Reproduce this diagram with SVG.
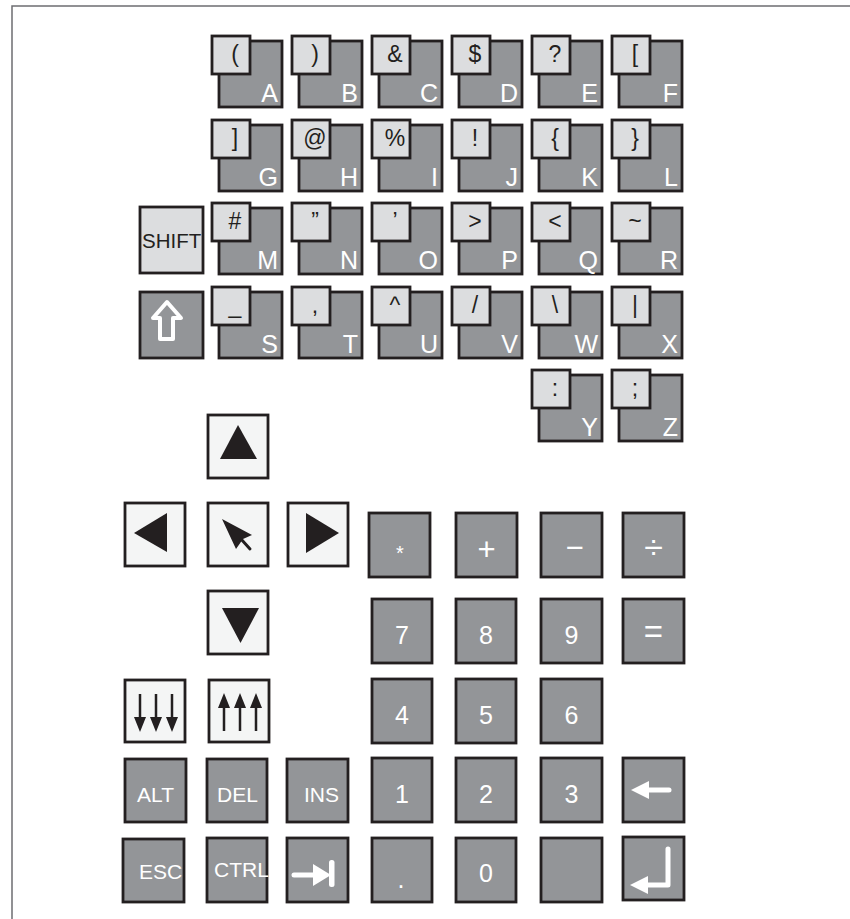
<svg xmlns="http://www.w3.org/2000/svg" width="850" height="919" viewBox="0 0 850 919">
<style>
.dk{fill:#939598;stroke:#231f20;stroke-width:2.8}
.lt{fill:#dcdddf;stroke:#231f20;stroke-width:2.8}
.wh{fill:#f4f5f5;stroke:#231f20;stroke-width:2.8}
text{font-family:"Liberation Sans",Arial,sans-serif}
.sym{font-size:23px;fill:#231f20;text-anchor:middle}
.let{font-size:25px;fill:#ffffff;text-anchor:end}
.num{font-size:25px;fill:#ffffff;text-anchor:middle}
.op{font-size:31px;fill:#ffffff;text-anchor:middle}
.lab{font-size:21px;fill:#ffffff}
.blk{fill:#231f20}
.wf{fill:#ffffff}
.ws{fill:none;stroke:#ffffff;stroke-width:5;stroke-linecap:round;stroke-linejoin:round}
</style>
<defs>
<g id="kbase"><rect class="dk" x="0" y="0" width="63" height="66"/><rect class="lt" x="-7" y="-5" width="38" height="38"/></g>
</defs>
<path d="M12,919 V6 H850" fill="none" stroke="#6d6e71" stroke-width="1.5"/>

<g id="key-A" transform="translate(219,41)"><use href="#kbase"/><text class="sym" x="16" y="21">(</text><text class="let" x="59" y="61">A</text></g>
<g id="key-B" transform="translate(299,41)"><use href="#kbase"/><text class="sym" x="16" y="21">)</text><text class="let" x="59" y="61">B</text></g>
<g id="key-C" transform="translate(379,41)"><use href="#kbase"/><text class="sym" x="16" y="21">&amp;</text><text class="let" x="59" y="61">C</text></g>
<g id="key-D" transform="translate(459,41)"><use href="#kbase"/><text class="sym" x="16" y="21">$</text><text class="let" x="59" y="61">D</text></g>
<g id="key-E" transform="translate(539,41)"><use href="#kbase"/><text class="sym" x="16" y="21">?</text><text class="let" x="59" y="61">E</text></g>
<g id="key-F" transform="translate(619,41)"><use href="#kbase"/><text class="sym" x="16" y="21">[</text><text class="let" x="59" y="61">F</text></g>

<g id="key-G" transform="translate(219,125)"><use href="#kbase"/><text class="sym" x="16" y="21">]</text><text class="let" x="59" y="61">G</text></g>
<g id="key-H" transform="translate(299,125)"><use href="#kbase"/><text class="sym" x="16" y="21">@</text><text class="let" x="59" y="61">H</text></g>
<g id="key-I" transform="translate(379,125)"><use href="#kbase"/><text class="sym" x="16" y="21">%</text><text class="let" x="59" y="61">I</text></g>
<g id="key-J" transform="translate(459,125)"><use href="#kbase"/><text class="sym" x="16" y="21">!</text><text class="let" x="59" y="61">J</text></g>
<g id="key-K" transform="translate(539,125)"><use href="#kbase"/><text class="sym" x="16" y="21">{</text><text class="let" x="59" y="61">K</text></g>
<g id="key-L" transform="translate(619,125)"><use href="#kbase"/><text class="sym" x="16" y="21">}</text><text class="let" x="59" y="61">L</text></g>

<g id="key-M" transform="translate(219,208)"><use href="#kbase"/><text class="sym" x="16" y="21">#</text><text class="let" x="59" y="61">M</text></g>
<g id="key-N" transform="translate(299,208)"><use href="#kbase"/><text class="sym" x="16" y="21">”</text><text class="let" x="59" y="61">N</text></g>
<g id="key-O" transform="translate(379,208)"><use href="#kbase"/><text class="sym" x="16" y="21">’</text><text class="let" x="59" y="61">O</text></g>
<g id="key-P" transform="translate(459,208)"><use href="#kbase"/><text class="sym" x="16" y="21">&gt;</text><text class="let" x="59" y="61">P</text></g>
<g id="key-Q" transform="translate(539,208)"><use href="#kbase"/><text class="sym" x="16" y="21">&lt;</text><text class="let" x="59" y="61">Q</text></g>
<g id="key-R" transform="translate(619,208)"><use href="#kbase"/><text class="sym" x="16" y="21">~</text><text class="let" x="59" y="61">R</text></g>

<g id="key-S" transform="translate(219,292)"><use href="#kbase"/><text class="sym" x="16" y="21">_</text><text class="let" x="59" y="61">S</text></g>
<g id="key-T" transform="translate(299,292)"><use href="#kbase"/><text class="sym" x="16" y="21">,</text><text class="let" x="59" y="61">T</text></g>
<g id="key-U" transform="translate(379,292)"><use href="#kbase"/><text class="sym" x="16" y="21">^</text><text class="let" x="59" y="61">U</text></g>
<g id="key-V" transform="translate(459,292)"><use href="#kbase"/><text class="sym" x="16" y="21">/</text><text class="let" x="59" y="61">V</text></g>
<g id="key-W" transform="translate(539,292)"><use href="#kbase"/><text class="sym" x="16" y="21">\</text><text class="let" x="59" y="61">W</text></g>
<g id="key-X" transform="translate(619,292)"><use href="#kbase"/><text class="sym" x="16" y="21">|</text><text class="let" x="59" y="61">X</text></g>

<g id="key-Y" transform="translate(539,375)"><use href="#kbase"/><text class="sym" x="16" y="21">:</text><text class="let" x="59" y="61">Y</text></g>
<g id="key-Z" transform="translate(619,375)"><use href="#kbase"/><text class="sym" x="16" y="21">;</text><text class="let" x="59" y="61">Z</text></g>

<g id="key-shift"><rect class="lt" x="140" y="207" width="63" height="66"/><text x="142" y="248" style="font-size:20.5px;fill:#231f20">SHIFT</text></g>
<g id="key-shiftlock"><rect class="dk" x="140" y="292" width="63" height="66"/><path d="M167,302 L181,318 L173,318 L173,339 L160,339 L160,318 L153,318 Z" fill="none" stroke="#ffffff" stroke-width="4" stroke-linejoin="round"/></g>

<g id="key-up"><rect class="wh" x="208" y="415" width="60" height="63"/><polygon class="blk" points="238,425 257,459 220,459"/></g>
<g id="key-left"><rect class="wh" x="125" y="503" width="60" height="63"/><polygon class="blk" points="134,533 167,513 167,552"/></g>
<g id="key-cursor"><rect class="wh" x="208" y="503" width="60" height="63"/><polygon class="blk" points="222,519 252,535 243,539 236,549"/><line x1="241" y1="539" x2="250" y2="549" stroke="#231f20" stroke-width="3" stroke-linecap="round"/></g>
<g id="key-right"><rect class="wh" x="288" y="503" width="60" height="63"/><polygon class="blk" points="306,513 339,533 306,553"/></g>
<g id="key-down"><rect class="wh" x="208" y="591" width="60" height="63"/><polygon class="blk" points="222,608 259,608 240.5,643"/></g>

<g id="key-pagedown"><rect class="wh" x="125" y="680" width="60" height="62"/>
<g stroke="#231f20" stroke-width="2.5"><line x1="140" y1="694" x2="140" y2="720"/><line x1="156" y1="694" x2="156" y2="720"/><line x1="172" y1="694" x2="172" y2="720"/></g>
<polygon class="blk" points="134,717 146,717 140,732"/><polygon class="blk" points="150,717 162,717 156,732"/><polygon class="blk" points="166,717 178,717 172,732"/></g>
<g id="key-pageup"><rect class="wh" x="209" y="680" width="60" height="62"/>
<g stroke="#231f20" stroke-width="2.5"><line x1="224" y1="705" x2="224" y2="731"/><line x1="240" y1="705" x2="240" y2="731"/><line x1="256" y1="705" x2="256" y2="731"/></g>
<polygon class="blk" points="224,693 230,708 218,708"/><polygon class="blk" points="240,693 246,708 234,708"/><polygon class="blk" points="256,693 262,708 250,708"/></g>

<g id="key-alt"><rect class="dk" x="125" y="759" width="61" height="63"/><text class="lab" x="137" y="802">ALT</text></g>
<g id="key-del"><rect class="dk" x="207" y="759" width="60" height="63"/><text class="lab" x="217" y="802">DEL</text></g>
<g id="key-ins"><rect class="dk" x="287" y="759" width="61" height="63"/><text class="lab" x="304" y="802">INS</text></g>
<g id="key-esc"><rect class="dk" x="123" y="839" width="61" height="63"/><text class="lab" x="139" y="879">ESC</text></g>
<g id="key-ctrl"><rect class="dk" x="207" y="838" width="60" height="64"/><text class="lab" x="214" y="877">CTRL</text></g>
<g id="key-tab"><rect class="dk" x="287" y="838" width="61" height="64"/><line class="ws" x1="294" y1="875" x2="315" y2="875"/><polygon class="wf" points="313,864 331,875 313,886"/><rect class="wf" x="329" y="860" width="5.5" height="27" rx="2.5"/></g>

<g id="key-mul"><rect class="dk" x="369" y="513" width="61" height="64"/><text class="num" x="400" y="560" style="font-size:20px">*</text></g>
<g id="key-plus"><rect class="dk" x="456" y="513" width="61" height="64"/><text class="op" x="486.5" y="560">+</text></g>
<g id="key-minus"><rect class="dk" x="541" y="513" width="61" height="64"/><text class="op" x="574.5" y="557.5">−</text></g>
<g id="key-div"><rect class="dk" x="623" y="513" width="61" height="64"/><text class="op" x="653.5" y="558.5" style="font-size:34px">÷</text></g>

<g id="key-7"><rect class="dk" x="372" y="599" width="60" height="64"/><text class="num" x="402" y="644">7</text></g>
<g id="key-8"><rect class="dk" x="456" y="599" width="60" height="64"/><text class="num" x="486" y="644">8</text></g>
<g id="key-9"><rect class="dk" x="541" y="599" width="61" height="64"/><text class="num" x="571.5" y="644">9</text></g>
<g id="key-eq"><rect class="dk" x="623" y="599" width="61" height="64"/><text class="op" x="653.5" y="643" style="font-size:33px">=</text></g>

<g id="key-4"><rect class="dk" x="372" y="679" width="60" height="64"/><text class="num" x="402" y="724">4</text></g>
<g id="key-5"><rect class="dk" x="456" y="679" width="60" height="64"/><text class="num" x="486" y="724">5</text></g>
<g id="key-6"><rect class="dk" x="541" y="679" width="61" height="64"/><text class="num" x="571.5" y="724">6</text></g>

<g id="key-1"><rect class="dk" x="372" y="758" width="60" height="64"/><text class="num" x="402" y="803">1</text></g>
<g id="key-2"><rect class="dk" x="456" y="758" width="60" height="64"/><text class="num" x="486" y="803">2</text></g>
<g id="key-3"><rect class="dk" x="541" y="758" width="61" height="64"/><text class="num" x="571.5" y="803">3</text></g>
<g id="key-back"><rect class="dk" x="623" y="758" width="61" height="64"/><line class="ws" x1="646" y1="790" x2="669" y2="790"/><polygon class="wf" points="631,790 649,781 649,799"/></g>

<g id="key-dot"><rect class="dk" x="372" y="838" width="60" height="64"/><text class="num" x="401" y="888">.</text></g>
<g id="key-0"><rect class="dk" x="456" y="838" width="60" height="64"/><text class="num" x="486" y="881.5">0</text></g>
<g id="key-blank"><rect class="dk" x="541" y="838" width="61" height="64"/></g>
<g id="key-enter"><rect class="dk" x="623" y="837" width="61" height="63"/><path class="ws" d="M668,849 V885 H646"/><polygon class="wf" points="630,885 648,876 648,894"/></g>
</svg>
